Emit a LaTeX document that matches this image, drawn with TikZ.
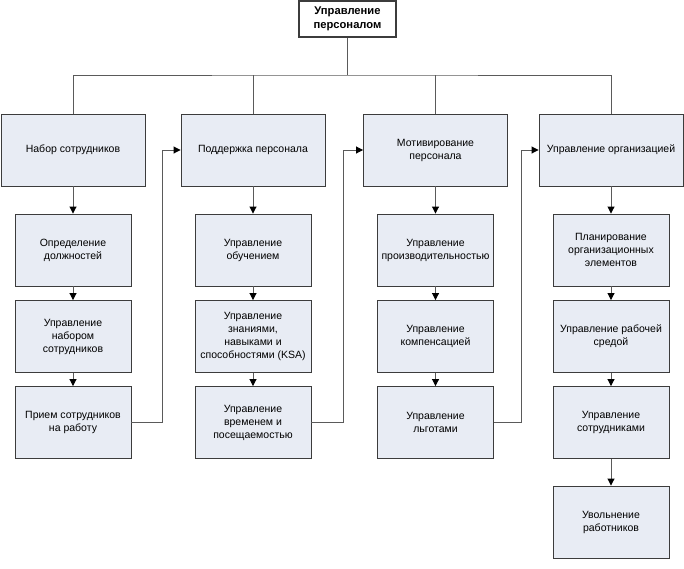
\documentclass[tikz,border=0pt]{standalone}
\usepackage{fontspec}
\setmainfont{Liberation Sans}
\usetikzlibrary{arrows.meta,positioning,calc}
\definecolor{boxfill}{HTML}{E8ECF4}
\definecolor{boxline}{HTML}{3C3C3C}
\definecolor{conline}{HTML}{5A5A5A}
\tikzset{
  lvlbox/.style={draw=boxline, fill=boxfill, line width=0.9pt, inner sep=1pt, align=center,
    font=\fontsize{10.5}{13}\selectfont, minimum width=144pt, minimum height=72pt},
  subbox/.style={draw=boxline, fill=boxfill, line width=0.9pt, inner sep=1pt, align=center,
    font=\fontsize{10.5}{13}\selectfont, minimum width=116pt, minimum height=72pt},
  topbox/.style={draw=boxline, fill=white, line width=1.3pt, inner sep=1pt, align=center,
    font=\bfseries\fontsize{11.2}{14}\selectfont, minimum width=97pt, minimum height=36pt},
  conn/.style={draw=conline, line width=0.9pt},
  arr/.style={conn, -{Triangle[length=7pt,width=7pt,color=black]}}
}
\begin{document}
\begin{tikzpicture}[x=1pt,y=-1pt]
\useasboundingbox (0,0) rectangle (684,568);
% top
\node[topbox] (top) at (347.5,19) {Управление\\персоналом};
% level 1
\node[lvlbox] (b1) at (73,150) {Набор сотрудников};
\node[lvlbox] (b2) at (253,150) {Поддержка персонала};
\node[lvlbox] (b3) at (435.5,150) {Мотивирование\\персонала};
\node[lvlbox] (b4) at (611,150) {Управление организацией};
% column 1
\node[subbox] (c11) at (73,250) {Определение\\должностей};
\node[subbox] (c12) at (73,336.5) {Управление\\набором\\сотрудников};
\node[subbox] (c13) at (73,422.5) {Прием сотрудников\\на работу};
% column 2
\node[subbox] (c21) at (253,250) {Управление\\обучением};
\node[subbox] (c22) at (253,336.5) {Управление\\знаниями,\\навыками и\\способностями (KSA)};
\node[subbox] (c23) at (253,422.5) {Управление\\временем и\\посещаемостью};
% column 3
\node[subbox] (c31) at (435.5,250) {Управление\\производительностью};
\node[subbox] (c32) at (435.5,336.5) {Управление\\компенсацией};
\node[subbox] (c33) at (435.5,422.5) {Управление\\льготами};
% column 4
\node[subbox] (c41) at (611,250) {Планирование\\организационных\\элементов};
\node[subbox] (c42) at (611,336.5) {Управление рабочей\\средой};
\node[subbox] (c43) at (611,422.5) {Управление\\сотрудниками};
\node[subbox] (c44) at (611,522) {Увольнение\\работников};
% tree from top
\coordinate (bus) at (347.5,75);
\draw[conn] (top.south) -- (bus);
\draw[conn] (b1.north) |- (bus) -| (b4.north);
\draw[conn] (b2.north) -- (b2.north |- bus);
\draw[conn] (b3.north) -- (b3.north |- bus);
% column arrows
\foreach \a/\b in {b1/c11,c11/c12,c12/c13,b2/c21,c21/c22,c22/c23,b3/c31,c31/c32,c32/c33,b4/c41,c41/c42,c42/c43,c43/c44}
  \draw[arr] (\a.south) -- (\b.north);
% cross connectors
\draw[arr] (c13.east) -- ++(31,0) |- (b2.west);
\draw[arr] (c23.east) -- ++(32,0) |- (b3.west);
\draw[arr] (c33.east) -- ++(27,0) |- (b4.west);
\end{tikzpicture}
\end{document}
